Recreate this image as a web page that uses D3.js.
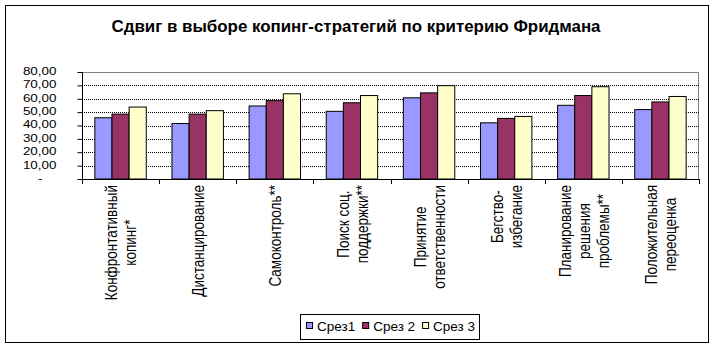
<!DOCTYPE html>
<html><head><meta charset="utf-8">
<script src="https://cdn.jsdelivr.net/npm/d3@7"></script>
<style>body{margin:0;background:#fff}svg{display:block}text{font-family:"Liberation Sans",Arial,sans-serif;fill:#000}</style>
</head><body><svg id="c" width="715" height="348"></svg>
<script>
const title = "Сдвиг в выборе копинг-стратегий по критерию Фридмана";
const categories = [
  ["Конфронтативный","копинг*"],
  ["Дистанцирование"],
  ["Самоконтроль**"],
  ["Поиск соц.","поддержки**"],
  ["Принятие","ответственности"],
  ["Бегство-","избегание"],
  ["Планирование","решения","проблемы**"],
  ["Положительная","переоценка"]
];
const seriesNames = ["Срез1","Срез 2","Срез 3"];
const srez1 = [45.8, 41.5, 54.6, 50.6, 60.7, 42.0, 55.1, 51.9];
const srez2 = [48.5, 48.5, 58.6, 57.0, 64.4, 45.3, 62.4, 57.6];
const srez3 = [53.8, 51.1, 63.7, 62.4, 69.8, 46.8, 69.0, 61.7];
const yTicks = [0,10,20,30,40,50,60,70,80];
const yTickLabels = ["-","10,00","20,00","30,00","40,00","50,00","60,00","70,00","80,00"];
const colors = ["#9999FF","#993366","#FFFFCC"];

const series = [srez1, srez2, srez3];
const svg = d3.select("#c");
svg.append("rect").attr("width",715).attr("height",348).attr("fill","#fff");
svg.append("rect").attr("x",5.5).attr("y",5.5).attr("width",703).attr("height",337)
  .attr("fill","none").attr("stroke","#000").attr("stroke-width",1);

svg.append("text").attr("x",356).attr("y",32).attr("text-anchor","middle")
  .attr("font-size",16).attr("font-weight","bold")
  .attr("textLength",489).attr("lengthAdjust","spacingAndGlyphs").text(title);

const L = 82, R = 699, T = 72, B = 179;
const x = d3.scaleBand().domain(d3.range(categories.length)).range([L,R]).paddingInner(0).paddingOuter(0);
const y = d3.scaleLinear().domain([0,80]).range([B,T]);
const cw = x.bandwidth();
const xs = d3.scaleBand().domain(d3.range(3)).range([cw*0.75/4.5, cw - cw*0.75/4.5]).padding(0);

// plot area border
svg.append("rect").attr("x",L+0.5).attr("y",T+0.5).attr("width",R-L-1).attr("height",B-T)
  .attr("fill","none").attr("stroke","#808080");
// grid
svg.append("g").selectAll("line").data(yTicks.filter(d=>d>0 && d<80)).join("line")
  .attr("x1",L).attr("x2",R).attr("y1",d=>Math.round(y(d))+0.5).attr("y2",d=>Math.round(y(d))+0.5)
  .attr("stroke","#000").attr("stroke-dasharray","1,1").attr("stroke-width",1);

// bars
const g = svg.append("g");
series.forEach((s,si)=>{
  g.append("g").selectAll("rect").data(s).join("rect")
    .attr("x",(d,i)=>x(i)+xs(si)).attr("width",xs.bandwidth())
    .attr("y",d=>y(d)).attr("height",d=>B-y(d))
    .attr("fill",colors[si]).attr("stroke","#000").attr("stroke-width",1);
});

// y axis
const ya = svg.append("g").attr("transform",`translate(${L+0.5},0)`)
  .call(d3.axisLeft(y).tickValues(yTicks).tickSize(5).tickFormat((d,i)=>yTickLabels[i]));
ya.attr("font-family",null).attr("font-size",null);
ya.select(".domain").attr("stroke","#000").attr("d",`M0,${T}V${B}`);
ya.selectAll(".tick line").attr("stroke","#000");
ya.selectAll(".tick text").attr("font-size",10.5)
  .each(function(d){
    const t = d3.select(this);
    const tx = d===0 ? -40 : -26;
    t.attr("x",0).attr("dy",null).attr("y",0).attr("dominant-baseline","central")
     .attr("transform",`translate(${tx},-1) scale(1.28,1)`);
  });

// x axis
svg.append("line").attr("x1",L).attr("x2",R+1).attr("y1",B+0.5).attr("y2",B+0.5).attr("stroke","#000");
svg.append("g").selectAll("line").data(d3.range(categories.length+1)).join("line")
  .attr("x1",i=>Math.round(L + i*cw)+0.5).attr("x2",i=>Math.round(L + i*cw)+0.5)
  .attr("y1",B).attr("y2",B+5).attr("stroke","#000");

// category labels
const lab = svg.append("g");
categories.forEach((lines,i)=>{
  const cx = x(i) + cw/2;
  const gg = lab.append("g");
  const ts = lines.map((ln,j)=>gg.append("text").attr("font-size",13.5).attr("text-anchor","middle")
    .attr("dominant-baseline","central").text(ln));
  const maxLen = d3.max(ts, t=>t.node().getComputedTextLength());
  const cy = 185 + maxLen/2;
  ts.forEach((t,j)=>{
    const lx = cx + (j - (lines.length-1)/2)*19 + 1;
    t.attr("transform",`translate(${lx},${cy}) rotate(-90) scale(1,1.2)`);
  });
});

// legend
const lg = svg.append("g");
lg.append("rect").attr("x",300.5).attr("y",314.5).attr("width",179).attr("height",25)
  .attr("fill","#fff").attr("stroke","#000");
let lx = 306;
seriesNames.forEach((n,i)=>{
  lg.append("rect").attr("x",lx+0.5).attr("y",322.5).attr("width",6).attr("height",6)
    .attr("fill",colors[i]).attr("stroke","#000");
  const t = lg.append("text").attr("x",lx+11).attr("y",331).attr("font-size",13.5).text(n);
  lx += 11 + t.node().getComputedTextLength() + 7;
});
</script></body></html>
